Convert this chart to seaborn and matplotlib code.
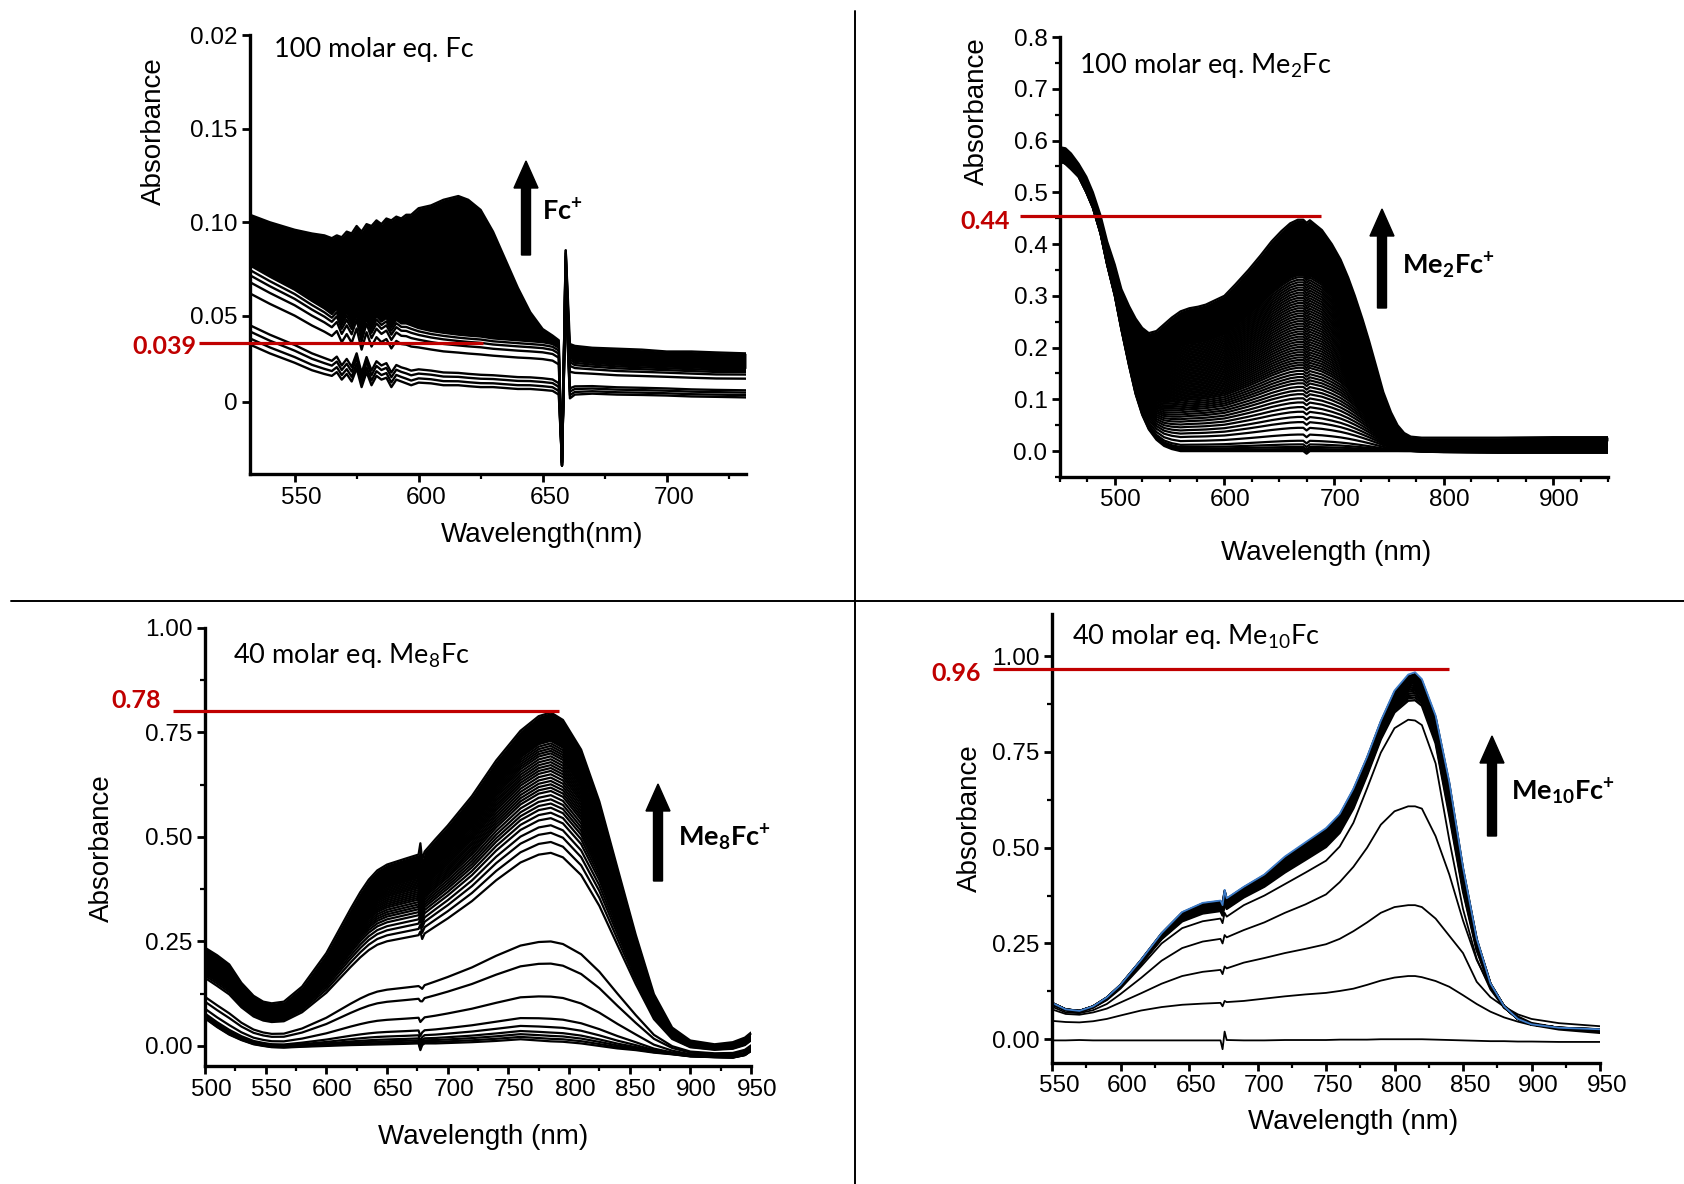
import numpy as np
import pandas as pd
import matplotlib
matplotlib.use("Agg")
import matplotlib.pyplot as plt
import seaborn as sns
from matplotlib.patches import FancyArrow
from matplotlib.transforms import IdentityTransform, blended_transform_factory, ScaledTranslation
from matplotlib.ticker import MultipleLocator, FixedLocator, FormatStrFormatter
from matplotlib.lines import Line2D

sns.set_theme(style="ticks")
plt.rcParams["font.family"] = ["Liberation Sans", "DejaVu Sans"]
plt.rcParams["mathtext.fontset"] = "custom"
plt.rcParams["mathtext.rm"] = "Lato"
plt.rcParams["mathtext.it"] = "Lato:italic"
plt.rcParams["mathtext.bf"] = "Lato:bold"

# ---------------- data: panel 1 (Fc) ----------------
fc_wl = [532, 540, 550, 557, 562, 565, 567, 569, 571, 573, 575, 577, 579, 581, 583,
         585, 587, 589, 591, 593, 595, 597, 600, 605, 610, 616, 620, 625, 630, 635,
         640, 645, 650, 654, 656.5, 657.8, 659.3, 661, 663, 670, 680, 690, 700, 710, 720, 732]
fc_low = [0.0347, 0.030, 0.025, 0.021, 0.019, 0.018, 0.020, 0.016, 0.019, 0.015,
          0.022, 0.012, 0.020, 0.013, 0.018, 0.016, 0.017, 0.012, 0.016, 0.015,
          0.014, 0.013, 0.0144, 0.014, 0.013, 0.013, 0.0125, 0.012, 0.012, 0.0115,
          0.011, 0.011, 0.0105, 0.010, 0.008, -0.028, 0.060, 0.006, 0.008, 0.0085,
          0.008, 0.0078, 0.0075, 0.007, 0.0068, 0.0065]
fc_mid = [0.077, 0.071, 0.064, 0.058, 0.054, 0.051, 0.054, 0.047, 0.052, 0.047,
          0.055, 0.043, 0.053, 0.045, 0.050, 0.047, 0.049, 0.044, 0.048, 0.046,
          0.046, 0.045, 0.0435, 0.042, 0.041, 0.040, 0.0395, 0.039, 0.038, 0.0375,
          0.037, 0.0365, 0.036, 0.035, 0.033, -0.030, 0.085, 0.028, 0.026, 0.025,
          0.024, 0.0235, 0.023, 0.0225, 0.022, 0.022]
fc_top = [0.104, 0.100, 0.096, 0.094, 0.093, 0.0915, 0.093, 0.092, 0.095, 0.094,
          0.098, 0.095, 0.099, 0.098, 0.101, 0.099, 0.102, 0.101, 0.103, 0.102,
          0.104, 0.104, 0.1075, 0.109, 0.112, 0.114, 0.112, 0.1066, 0.095, 0.080,
          0.065, 0.052, 0.043, 0.0395, 0.037, -0.030, 0.085, 0.035, 0.034, 0.033,
          0.0325, 0.032, 0.031, 0.031, 0.0305, 0.030]
fc_line_levels = [0.0347, 0.038, 0.0417, 0.045, 0.062, 0.068, 0.0717, 0.0745]  # at 532 nm

# ---------------- data: panel 2 (Me2Fc) ----------------
me2_wl = [450, 455, 460, 467, 474, 480, 487, 493, 500, 506, 513, 519, 525, 531, 538,
          545, 552, 560, 568, 576, 583, 590, 600, 610, 622, 633, 643, 652, 660, 667,
          672, 675, 678, 689, 698, 706, 713, 719, 726, 732, 739, 745, 752, 758, 764,
          770, 780, 800, 850, 900, 950]
me2_high = [0.587, 0.585, 0.575, 0.555, 0.530, 0.500, 0.455, 0.405, 0.360, 0.313,
            0.280, 0.256, 0.238, 0.228, 0.232, 0.245, 0.258, 0.270, 0.276, 0.279,
            0.283, 0.290, 0.300, 0.322, 0.350, 0.378, 0.405, 0.425, 0.440, 0.447,
            0.447, 0.441, 0.446, 0.427, 0.400, 0.370, 0.335, 0.300, 0.255, 0.213,
            0.160, 0.114, 0.075, 0.050, 0.035, 0.028, 0.026, 0.026, 0.026, 0.027, 0.027]
me2_low = [0.560, 0.555, 0.545, 0.530, 0.500, 0.470, 0.420, 0.360, 0.300, 0.235,
           0.165, 0.110, 0.070, 0.042, 0.022, 0.010, 0.004, 0.0, 0.0, 0.0,
           0.0, 0.0, 0.0, 0.0, 0.0, 0.0, 0.0, 0.0, 0.0, 0.0,
           0.0, -0.005, 0.0, 0.0, 0.0, 0.0, 0.0, 0.0, 0.0, 0.0,
           0.0, 0.0, 0.0, 0.0, 0.0, 0.0, -0.001, -0.002, -0.003, -0.003, -0.003]
me2_peak_levels = [0.0, 0.004, 0.008, 0.013, 0.02, 0.032, 0.045, 0.056, 0.066, 0.076,
                   0.085, 0.094, 0.102, 0.11, 0.117, 0.124, 0.131, 0.137, 0.143, 0.149,
                   0.155, 0.161, 0.166, 0.171, 0.176, 0.181, 0.186, 0.191, 0.196, 0.201,
                   0.206, 0.211, 0.216, 0.221, 0.226, 0.231, 0.236, 0.241, 0.246, 0.251,
                   0.256, 0.261, 0.266, 0.271, 0.276, 0.281, 0.286, 0.291, 0.296, 0.301,
                   0.306, 0.311, 0.316, 0.321, 0.326, 0.331, 0.336, 0.34]

# ---------------- data: panel 3 (Me8Fc) ----------------
me8_wl = [500, 510, 520, 530, 540, 548, 555, 565, 580, 600, 620, 628, 635, 642, 650,
          665, 676, 677.5, 679, 681, 690, 700, 720, 740, 760, 775, 785, 795, 810, 825,
          840, 855, 870, 885, 900, 920, 935, 945, 950]
me8_high = [0.235, 0.217, 0.195, 0.151, 0.120, 0.106, 0.102, 0.106, 0.142, 0.222,
            0.328, 0.368, 0.398, 0.420, 0.434, 0.448, 0.458, 0.485, 0.445, 0.465,
            0.495, 0.527, 0.598, 0.683, 0.754, 0.789, 0.798, 0.780, 0.709, 0.585,
            0.425, 0.266, 0.124, 0.044, 0.013, 0.004, 0.009, 0.020, 0.032]
me8_low = [0.066, 0.045, 0.027, 0.014, 0.004, 0.0, -0.003, -0.004, -0.002, 0.0,
           0.002, 0.0025, 0.003, 0.0035, 0.004, 0.005, 0.006, -0.010, 0.002, 0.006,
           0.006, 0.007, 0.009, 0.012, 0.016, 0.013, 0.011, 0.010, 0.006, 0.0,
           -0.006, -0.010, -0.016, -0.020, -0.025, -0.027, -0.028, -0.022, -0.012]
me8_peak_levels = [0.011, 0.017, 0.024, 0.032, 0.045, 0.065, 0.118, 0.197, 0.25,
                   0.462, 0.488, 0.51, 0.528, 0.545, 0.558, 0.57, 0.58, 0.59, 0.6,
                   0.61, 0.618, 0.626, 0.634, 0.642, 0.65, 0.658, 0.665, 0.672, 0.679,
                   0.686, 0.693, 0.7, 0.706, 0.712, 0.718, 0.724, 0.73]

# ---------------- data: panel 4 (Me10Fc) ----------------
me10_wl = [550, 560, 570, 580, 590, 600, 615, 630, 645, 660, 673, 674.5, 676, 677.5,
           690, 705, 720, 735, 750, 760, 770, 780, 790, 800, 810, 815, 820, 830, 840,
           850, 860, 870, 880, 890, 900, 920, 950]
me10_high = [0.095, 0.078, 0.074, 0.086, 0.109, 0.142, 0.207, 0.277, 0.332, 0.356,
             0.362, 0.350, 0.390, 0.368, 0.398, 0.430, 0.477, 0.514, 0.551, 0.588,
             0.654, 0.737, 0.831, 0.910, 0.952, 0.958, 0.940, 0.845, 0.672, 0.449,
             0.263, 0.146, 0.086, 0.053, 0.039, 0.030, 0.026]
me10_c4 = [0.090, 0.075, 0.071, 0.082, 0.102, 0.132, 0.190, 0.250, 0.290, 0.308,
           0.315, 0.303, 0.330, 0.320, 0.350, 0.375, 0.405, 0.435, 0.466, 0.503,
           0.565, 0.655, 0.748, 0.812, 0.834, 0.832, 0.820, 0.720, 0.520, 0.340,
           0.210, 0.130, 0.082, 0.055, 0.040, 0.028, 0.020]
me10_c3 = [0.085, 0.070, 0.068, 0.076, 0.092, 0.118, 0.160, 0.205, 0.238, 0.255,
           0.262, 0.250, 0.272, 0.266, 0.285, 0.305, 0.330, 0.352, 0.378, 0.410,
           0.450, 0.500, 0.560, 0.595, 0.608, 0.608, 0.602, 0.530, 0.430, 0.310,
           0.207, 0.135, 0.088, 0.060, 0.043, 0.030, 0.018]
me10_c2 = [0.078, 0.066, 0.064, 0.070, 0.080, 0.096, 0.120, 0.145, 0.165, 0.176,
           0.181, 0.170, 0.190, 0.185, 0.200, 0.212, 0.225, 0.236, 0.248, 0.262,
           0.282, 0.305, 0.330, 0.345, 0.350, 0.350, 0.345, 0.315, 0.270, 0.225,
           0.150, 0.110, 0.085, 0.065, 0.053, 0.042, 0.034]
me10_c1 = [0.048, 0.045, 0.044, 0.047, 0.053, 0.062, 0.075, 0.084, 0.090, 0.093,
           0.095, 0.086, 0.100, 0.097, 0.100, 0.106, 0.112, 0.117, 0.121, 0.126,
           0.132, 0.142, 0.153, 0.161, 0.165, 0.165, 0.162, 0.152, 0.137, 0.115,
           0.092, 0.072, 0.057, 0.046, 0.037, 0.025, 0.016]
me10_low = [-0.003, -0.003, -0.002, -0.003, -0.003, -0.003, -0.003, -0.003, -0.003, -0.003,
            -0.003, -0.026, 0.020, -0.002, -0.003, -0.003, -0.002, -0.002, -0.002, -0.001,
            -0.001, -0.001, 0.0, 0.0, 0.0, 0.0, 0.0, -0.001, -0.002, -0.003,
            -0.004, -0.005, -0.005, -0.006, -0.006, -0.007, -0.007]
me10_band_levels = [0.885, 0.892, 0.898, 0.904, 0.91, 0.915, 0.92, 0.925, 0.93,
                    0.934, 0.938, 0.942, 0.946, 0.95, 0.953]

# reference levels (red lines) and their labels
ref_values = [0.0356, 0.4545, 0.802, 0.9675]
ref_labels = ["0.039", "0.44", "0.78", "0.96"]

# ---------------- figure ----------------
W, H = 1684, 1184
fig = plt.figure(figsize=(W / 100, H / 100), dpi=100, facecolor="white")

RED = "#C00000"
TXT_FONT = ["Lato", "DejaVu Sans"]
TICK_FS = 17.5


def add_ax(left, top, right, bottom):
    return fig.add_axes([left / W, 1 - bottom / H, (right - left) / W, (bottom - top) / H])


def style(ax):
    sns.despine(ax=ax)
    for s in ["left", "bottom"]:
        ax.spines[s].set_linewidth(2.4)
        ax.spines[s].set_color("black")
    ax.tick_params(which="major", direction="out", length=6, width=2, labelsize=TICK_FS,
                   color="black", labelcolor="black", pad=3)
    ax.tick_params(which="minor", direction="out", length=3.5, width=1.6, color="black")
    ax.set_facecolor("white")


def shift_xticklabels(ax, dx_px):
    off = ScaledTranslation(dx_px / 100.0, 0, fig.dpi_scale_trans)
    for lbl in ax.get_xticklabels():
        lbl.set_transform(lbl.get_transform() + off)


def mix(a, b, f):
    return np.asarray(a) * (1 - f) + np.asarray(b) * f


def long_frame(wl, curves):
    n = len(curves)
    return pd.DataFrame({
        "wl": np.tile(np.asarray(wl, float), n),
        "A": np.concatenate([np.asarray(c, float) for c in curves]),
        "curve": np.repeat(np.arange(n), len(wl)),
    })


def draw_lines(ax, wl, curves, lw, color="black"):
    df = long_frame(wl, curves)
    sns.lineplot(data=df, x="wl", y="A", units="curve", estimator=None, sort=False,
                 color=color, linewidth=lw, ax=ax, legend=False)


def ftext(x, y, s, **kw):
    fig.text(x / W, 1 - y / H, s, **kw)


def ref_line(ax, x0, x1, val):
    tr = blended_transform_factory(ax.transAxes, ax.transData)
    ax.plot([x0, x1], [val, val], color=RED, lw=2.3, transform=tr, clip_on=False,
            solid_capstyle="butt", zorder=5)


def arrow(x, ytop, ybot):
    fig.add_artist(FancyArrow(x, H - ybot, 0, ybot - ytop, width=9, head_width=24,
                              head_length=27, length_includes_head=True,
                              color="black", transform=IdentityTransform()))


# ---------------- panel 1 ----------------
ax1 = add_ax(250, 35, 746, 474)
style(ax1)
lo, mi, tp = map(np.asarray, (fc_low, fc_mid, fc_top))
curves1 = [mix(lo, mi, (v - lo[0]) / (mi[0] - lo[0])) for v in fc_line_levels]
ax1.fill_between(fc_wl, mi, tp, color="black", linewidth=0)
draw_lines(ax1, fc_wl, curves1 + [mi, tp], lw=1.7)
ax1.set_xlim(532, 732)
ax1.set_ylim(-0.0344, 0.20)
ax1.xaxis.set_major_locator(FixedLocator([550, 600, 650, 700]))
ax1.xaxis.set_minor_locator(MultipleLocator(25))
ax1.yaxis.set_major_locator(FixedLocator([0.0043, 0.05, 0.10, 0.15, 0.20]))
ax1.set_yticklabels(["0", "0.05", "0.10", "0.15", "0.02"])
ax1.set_xlabel("")
ax1.set_ylabel("")
shift_xticklabels(ax1, 7)

# ---------------- panel 2 ----------------
ax2 = add_ax(1060, 37, 1608, 477)
style(ax2)
lo2, hi2 = np.asarray(me2_low), np.asarray(me2_high)
k2 = me2_wl.index(672)
curves2 = [mix(lo2, hi2, (h - lo2[k2]) / (hi2[k2] - lo2[k2])) for h in me2_peak_levels]
ax2.fill_between(me2_wl, curves2[-1], hi2, color="black", linewidth=0)
draw_lines(ax2, me2_wl, curves2 + [hi2], lw=1.6)
ax2.set_xlim(450, 950)
ax2.set_ylim(-0.05, 0.8)
ax2.xaxis.set_major_locator(FixedLocator([500, 600, 700, 800, 900]))
ax2.xaxis.set_minor_locator(MultipleLocator(25))
ax2.yaxis.set_major_locator(MultipleLocator(0.1))
ax2.yaxis.set_minor_locator(MultipleLocator(0.05))
ax2.yaxis.set_major_formatter(FormatStrFormatter("%.1f"))
ax2.set_xlabel("")
ax2.set_ylabel("")
shift_xticklabels(ax2, 6)

# ---------------- panel 3 ----------------
ax3 = add_ax(205, 628, 751, 1066)
style(ax3)
lo3, hi3 = np.asarray(me8_low), np.asarray(me8_high)
k3 = me8_wl.index(785)
curves3 = [mix(lo3, hi3, (h - lo3[k3]) / (hi3[k3] - lo3[k3])) for h in me8_peak_levels]
ax3.fill_between(me8_wl, curves3[-1], hi3, color="black", linewidth=0)
draw_lines(ax3, me8_wl, curves3 + [hi3], lw=1.6)
ax3.set_xlim(500, 950)
ax3.set_ylim(-0.048, 1.0)
ax3.xaxis.set_major_locator(MultipleLocator(50))
ax3.xaxis.set_minor_locator(MultipleLocator(25))
ax3.yaxis.set_major_locator(MultipleLocator(0.25))
ax3.yaxis.set_minor_locator(MultipleLocator(0.125))
ax3.yaxis.set_major_formatter(FormatStrFormatter("%.2f"))
ax3.set_xlabel("")
ax3.set_ylabel("")
shift_xticklabels(ax3, 6)

# ---------------- panel 4 ----------------
ax4 = add_ax(1052, 614, 1600, 1063)
style(ax4)
c4, hi4 = np.asarray(me10_c4), np.asarray(me10_high)
k4 = me10_wl.index(815)
band4 = [mix(c4, hi4, (h - c4[k4]) / (hi4[k4] - c4[k4])) for h in me10_band_levels]
draw_lines(ax4, me10_wl, [me10_low, me10_c1, me10_c2, me10_c3, me10_c4], lw=1.3)
draw_lines(ax4, me10_wl, band4, lw=1.7)
draw_lines(ax4, me10_wl, [hi4], lw=1.3, color="#3d7cc9")
ax4.set_xlim(550, 950)
ax4.set_ylim(-0.062, 1.11)
ax4.xaxis.set_major_locator(MultipleLocator(50))
ax4.xaxis.set_minor_locator(MultipleLocator(25))
ax4.yaxis.set_major_locator(FixedLocator([0.0, 0.25, 0.5, 0.75, 1.0]))
ax4.yaxis.set_minor_locator(FixedLocator([0.125, 0.375, 0.625, 0.875]))
ax4.yaxis.set_major_formatter(FormatStrFormatter("%.2f"))
ax4.set_xlabel("")
ax4.set_ylabel("")
shift_xticklabels(ax4, 7)

# ---------------- axis labels ----------------
lab = dict(fontsize=20, ha="center", va="center", color="black")
ftext(154, 131, "Absorbance", rotation=90, **lab)
ftext(542, 535, "Wavelength(nm)", **lab)
ftext(977, 111, "Absorbance", rotation=90, **lab)
ftext(1326, 553, "Wavelength (nm)", **lab)
ftext(102, 848, "Absorbance", rotation=90, **lab)
ftext(483, 1137, "Wavelength (nm)", **lab)
ftext(970, 818, "Absorbance", rotation=90, **lab)
ftext(1353, 1122, "Wavelength (nm)", **lab)

# ---------------- panel annotations ----------------
ttl = dict(fontsize=19.5, ha="left", va="baseline", family=TXT_FONT, color="black")
ftext(274, 57, "100 molar eq. Fc", **ttl)
ftext(1079, 73, r"100 molar eq. Me$_{\mathrm{2}}$Fc", **ttl)
ftext(233, 663, r"40 molar eq. Me$_{\mathrm{8}}$Fc", **ttl)
ftext(1072, 644, r"40 molar eq. Me$_{\mathrm{10}}$Fc", **ttl)

bold = dict(fontsize=19.5, ha="left", va="baseline", family=TXT_FONT, color="black")
ftext(542, 220, r"$\mathbf{Fc^{+}}$", **bold)
ftext(1402, 274, r"$\mathbf{Me_{2}Fc^{+}}$", **bold)
ftext(678, 846, r"$\mathbf{Me_{8}Fc^{+}}$", **bold)
ftext(1511, 800, r"$\mathbf{Me_{10}Fc^{+}}$", **bold)

arrow(526, 161, 255)
arrow(1382, 209, 308)
arrow(658, 784, 881)
arrow(1492, 736, 836)

# red reference lines and labels
ref_line(ax1, -0.103, 0.470, ref_values[0])
ref_line(ax2, -0.073, 0.476, ref_values[1])
ref_line(ax3, -0.058, 0.649, ref_values[2])
ref_line(ax4, -0.107, 0.725, ref_values[3])
red = dict(fontsize=18, ha="right", va="baseline", family=TXT_FONT, color=RED,
           fontweight="bold")
ftext(196, 354, ref_labels[0], **red)
ftext(1010, 229, ref_labels[1], **red)
ftext(161, 708, ref_labels[2], **red)
ftext(981, 681, ref_labels[3], **red)

# divider lines
fig.add_artist(Line2D([855 / W, 855 / W], [1 - 11 / H, 0], color="black", lw=1.4,
                      transform=fig.transFigure))
fig.add_artist(Line2D([11 / W, 1], [1 - 601 / H, 1 - 601 / H], color="black", lw=1.4,
                      transform=fig.transFigure))

fig.savefig("out.png", dpi=100, facecolor="white")
